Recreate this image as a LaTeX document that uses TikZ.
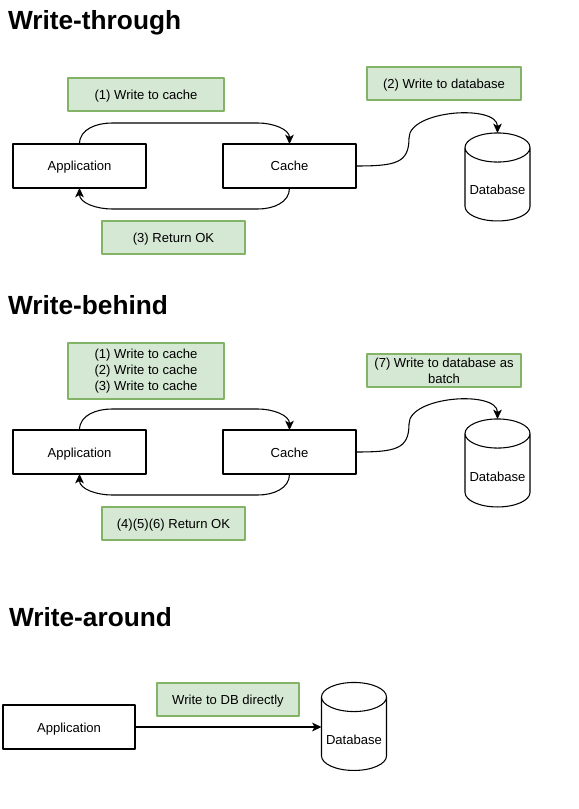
\documentclass[tikz,border=0pt]{standalone}
\usepackage{fontspec}
\setmainfont{Liberation Sans}
\usetikzlibrary{arrows.meta,shapes.geometric}
\definecolor{notefill}{HTML}{D5E8D4}
\definecolor{noteline}{HTML}{82B366}
\begin{document}
\begin{tikzpicture}[x=0.75pt, y=0.75pt, line join=round, line cap=round, >={Stealth[length=7pt,width=6.5pt,inset=1.8pt]},
  every node/.style={font=\fontsize{9.8}{11.9}\selectfont, inner sep=0pt, outer sep=0pt},
  oneline/.style={text height=9pt, text depth=1.5pt},
  box/.style={draw, line width=0.8pt, minimum width=99.75pt, minimum height=33pt, oneline},
  note/.style={draw=noteline, fill=notefill, line width=0.8pt, minimum height=24.75pt, align=center},
  db/.style={draw, line width=0.8pt, cylinder, shape border rotate=90, aspect=0.52, minimum width=48.75pt, minimum height=66pt, text height=15.75pt, text depth=0pt},
  heading/.style={font=\fontsize{19.7}{23}\selectfont\bfseries, anchor=base west},
  flow/.style={->, line width=0.8pt}]
\useasboundingbox (0,0) rectangle (578,-809);
\node[heading] (head1) at (8,-30) {Write-through};
\node[note, oneline, minimum width=117pt] (write1) at (146,-94.5) {(1) Write to cache};
\node[note, oneline, minimum width=115.5pt] (store1) at (444,-83.5) {(2) Write to database};
\node[box] (app1) at (79.5,-166) {Application};
\node[box] (cache1) at (289.5,-166) {Cache};
\node[db] (db1) at (497.5,-184.5) {Database};
\node[note, oneline, minimum width=107.25pt] (ok1) at (173.5,-237.5) {(3) Return OK};
\draw[flow] (app1.north) to[out=90,in=180] (112,-123) -- (258,-123) to[out=0,in=90] (cache1.north);
\draw[flow] (cache1.south) to[out=-90,in=0] (258,-209) -- (112,-209) to[out=180,in=-90] (app1.south);
\draw[flow] (cache1.east) .. controls (396,-166) and (409,-163) .. (409,-138) .. controls (409,-110) and (497.5,-104) .. (db1.north);
\node[heading] (head2) at (8,-314) {Write-behind};
\node[note, minimum width=117pt, minimum height=42pt] (write2) at (146,-371) {(1) Write to cache\\(2) Write to cache\\(3) Write to cache};
\node[note, minimum width=115.5pt] (store2) at (444,-370.5) {(7) Write to database as\\batch};
\node[box] (app2) at (79.5,-452) {Application};
\node[box] (cache2) at (289.5,-452) {Cache};
\node[db] (db2) at (497.5,-470.5) {Database};
\node[note, oneline, minimum width=107.25pt] (ok2) at (173.5,-523.5) {(4)(5)(6) Return OK};
\draw[flow] (app2.north) to[out=90,in=180] (112,-409) -- (258,-409) to[out=0,in=90] (cache2.north);
\draw[flow] (cache2.south) to[out=-90,in=0] (258,-495) -- (112,-495) to[out=180,in=-90] (app2.south);
\draw[flow] (cache2.east) .. controls (396,-452) and (409,-449) .. (409,-424) .. controls (409,-396) and (497.5,-390) .. (db2.north);
\node[heading] (head3) at (9,-626) {Write-around};
\node[note, oneline, minimum width=106.5pt] (direct3) at (228,-699.5) {Write to DB directly};
\node[box, minimum width=99pt] (app3) at (69,-727) {Application};
\node[db] (db3) at (354,-734) {Database};
\draw[flow] (app3.east) -- (app3.east -| db3.west);
\end{tikzpicture}
\end{document}
